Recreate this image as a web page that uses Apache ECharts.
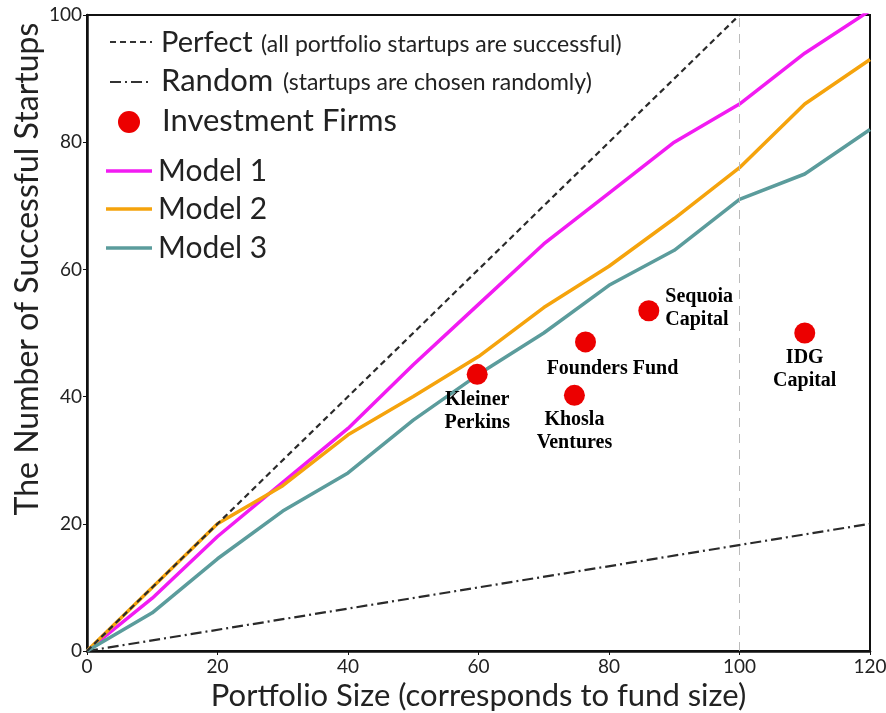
<!DOCTYPE html>
<html>
<head>
<meta charset="utf-8">
<title>Portfolio size vs successful startups</title>
<script src="https://cdn.jsdelivr.net/npm/echarts@6/dist/echarts.min.js"></script>
<style>
  html, body { margin: 0; padding: 0; background: #fff; }
  #main { width: 886px; height: 713px; }
</style>
</head>
<body>
<div id="main"></div>
<script>
// portfolio size (x) and number of successful startups per model
var portfolioSize = [0, 10, 20, 30, 40, 50, 60, 70, 80, 90, 100, 110, 120];
var model1 = [0, 8.3, 18, 26.5, 35, 45, 54.5, 64, 72, 80, 86, 94, 100.7];
var model2 = [0, 10, 20, 26, 34, 40, 46.3, 54, 60.5, 68, 76, 86, 93];
var model3 = [0, 6, 14.5, 22, 28, 36.3, 43.5, 50, 57.5, 63, 71, 75, 82];

// reference lines
var perfectLine = [[0, 0], [100, 100]];
var randomLine = [[0, 0], [120, 20]];

// investment firms
var firmNames = ['Kleiner\nPerkins', 'Khosla\nVentures', 'Founders Fund', 'Sequoia\nCapital', 'IDG\nCapital'];
var firmSize = [59.8, 74.7, 76.4, 86.1, 110];
var firmSuccess = [43.5, 40.2, 48.6, 53.5, 50];

var xTicks = { min: 0, max: 120, interval: 20 };
var yTicks = { min: 0, max: 100, interval: 20 };

// label placement for each firm (style only)
var labelPlace = {
  'Kleiner\nPerkins': { position: 'bottom', distance: 3 },
  'Khosla\nVentures': { position: 'bottom', distance: 3 },
  'Founders Fund': { position: 'bottom', distance: 5, offset: [27, 0] },
  'Sequoia\nCapital': { position: 'right', distance: 6, align: 'left', offset: [0, -2] },
  'IDG\nCapital': { position: 'bottom', distance: 3 }
};

function zip(xs, ys) {
  return xs.map(function (x, i) { return [x, ys[i]]; });
}

var chart = echarts.init(document.getElementById('main'));

var firmData = firmNames.map(function (name, i) {
  var p = labelPlace[name];
  return {
    name: name,
    value: [firmSize[i], firmSuccess[i]],
    label: {
      show: true,
      formatter: name,
      position: p.position,
      distance: p.distance,
      offset: p.offset || [0, 0],
      align: p.align || 'center',
      fontFamily: 'Liberation Serif',
      fontWeight: 'bold',
      fontSize: 20,
      lineHeight: 23,
      color: '#000'
    }
  };
});

var legendFont = 'Lato';
var option = {
  animation: false,
  backgroundColor: '#fff',
  grid: {
    left: 87, right: 16, top: 15, bottom: 62,
    outerBoundsMode: 'none',
    containLabel: false,
    show: true, borderColor: '#111', borderWidth: 2
  },
  xAxis: {
    type: 'value',
    min: xTicks.min, max: xTicks.max, interval: xTicks.interval,
    name: 'Portfolio Size (corresponds to fund size)',
    nameLocation: 'middle',
    nameGap: 29,
    nameTextStyle: { fontFamily: legendFont, fontSize: 31, color: '#222' },
    axisLine: { show: true, lineStyle: { color: '#111', width: 2.5 } },
    axisTick: { show: true, length: 4, lineStyle: { color: '#111' } },
    axisLabel: { fontFamily: legendFont, fontSize: 19, color: '#222', margin: 6 },
    splitLine: { show: false }
  },
  yAxis: {
    type: 'value',
    min: yTicks.min, max: yTicks.max, interval: yTicks.interval,
    axisLine: { show: true, lineStyle: { color: '#111', width: 2.5 } },
    axisTick: { show: true, length: 4, lineStyle: { color: '#111' } },
    axisLabel: { fontFamily: legendFont, fontSize: 19, color: '#222', margin: 5 },
    splitLine: { show: false }
  },
  series: [
    {
      name: 'Perfect', type: 'line', data: perfectLine, showSymbol: false, z: 5,
      lineStyle: { color: '#2a2a2a', width: 2.2, type: [6, 4] },
      markLine: {
        silent: true, symbol: 'none', label: { show: false },
        lineStyle: { color: '#bbb', width: 1, type: [9, 7] },
        data: [{ xAxis: 100 }]
      }
    },
    {
      name: 'Random', type: 'line', data: randomLine, showSymbol: false, z: 3,
      lineStyle: { color: '#2a2a2a', width: 2.2, type: [11, 4, 2, 4] }
    },
    {
      name: 'Model 1', type: 'line', data: zip(portfolioSize, model1), showSymbol: false, z: 4,
      lineStyle: { color: '#f21bf2', width: 3.5 }
    },
    {
      name: 'Model 2', type: 'line', data: zip(portfolioSize, model2), showSymbol: false, z: 4,
      lineStyle: { color: '#f5a30c', width: 3.5 }
    },
    {
      name: 'Model 3', type: 'line', data: zip(portfolioSize, model3), showSymbol: false, z: 4,
      lineStyle: { color: '#5b9c9c', width: 3.5 }
    },
    {
      name: 'Investment Firms', type: 'scatter', data: firmData, z: 6,
      symbolSize: 21,
      itemStyle: { color: '#ec0000', opacity: 1 }
    }
  ],
  graphic: [
    {
      type: 'text', x: 28, y: 269, rotation: Math.PI / 2,
      style: { text: 'The Number of Successful Startups', x: 0, y: 0, align: 'center', verticalAlign: 'middle',
        font: '32px Lato', fill: '#222' }
    },
    // legend: Perfect
    { type: 'line', shape: { x1: 110, y1: 42, x2: 152, y2: 42 },
      style: { stroke: '#333', lineWidth: 2, lineDash: [6, 4] } },
    { type: 'text', x: 161, y: 43,
      style: { text: 'Perfect', verticalAlign: 'middle', font: '29px Lato', fill: '#222' } },
    { type: 'text', x: 261, y: 45,
      style: { text: '(all portfolio startups are successful)', verticalAlign: 'middle', font: '23px Lato', fill: '#222' } },
    // legend: Random
    { type: 'line', shape: { x1: 110, y1: 82, x2: 152, y2: 82 },
      style: { stroke: '#333', lineWidth: 2, lineDash: [11, 4, 2, 4] } },
    { type: 'text', x: 161, y: 81,
      style: { text: 'Random', verticalAlign: 'middle', font: '31px Lato', fill: '#222' } },
    { type: 'text', x: 283, y: 83,
      style: { text: '(startups are chosen randomly)', verticalAlign: 'middle', font: '23px Lato', fill: '#222' } },
    // legend: Investment Firms
    { type: 'circle', shape: { cx: 129, cy: 122, r: 11 }, style: { fill: '#ec0000' } },
    { type: 'text', x: 162, y: 121,
      style: { text: 'Investment Firms', verticalAlign: 'middle', font: '31px Lato', fill: '#222' } },
    // legend: models
    { type: 'line', shape: { x1: 106, y1: 171, x2: 152, y2: 171 },
      style: { stroke: '#f21bf2', lineWidth: 3.5 } },
    { type: 'text', x: 158, y: 171,
      style: { text: 'Model 1', verticalAlign: 'middle', font: '30px Lato', fill: '#222' } },
    { type: 'line', shape: { x1: 106, y1: 209, x2: 152, y2: 209 },
      style: { stroke: '#f5a30c', lineWidth: 3.5 } },
    { type: 'text', x: 158, y: 209,
      style: { text: 'Model 2', verticalAlign: 'middle', font: '30px Lato', fill: '#222' } },
    { type: 'line', shape: { x1: 106, y1: 248, x2: 152, y2: 248 },
      style: { stroke: '#5b9c9c', lineWidth: 3.5 } },
    { type: 'text', x: 158, y: 248,
      style: { text: 'Model 3', verticalAlign: 'middle', font: '30px Lato', fill: '#222' } }
  ]
};

chart.setOption(option);
</script>
</body>
</html>
